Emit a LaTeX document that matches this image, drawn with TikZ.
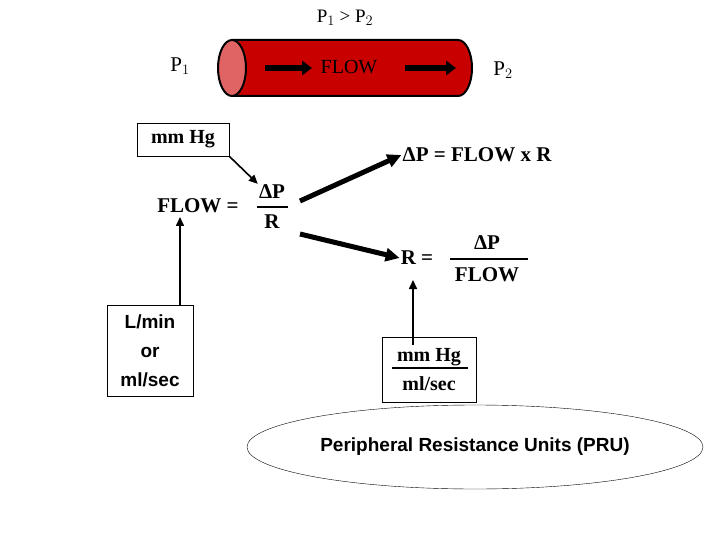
\documentclass[tikz,border=0pt]{standalone}
\usepackage{fontspec}
\setmainfont{Liberation Serif}
\newfontfamily\sansf{Liberation Sans}
\usetikzlibrary{arrows.meta,shapes.geometric}
\definecolor{tube}{RGB}{200,0,0}
\definecolor{tubeend}{RGB}{224,100,100}
\begin{document}
\begin{tikzpicture}[x=1pt,y=-1pt,
  txt/.style={inner sep=1pt,font=\fontsize{21}{23}\selectfont\bfseries},
  box/.style={draw,thin,inner sep=3pt,font=\fontsize{20}{22}\selectfont\bfseries},
  thin arr/.style={-{Triangle[length=9pt,width=8pt]},line width=1.6pt},
  fat arr/.style={-{Triangle[length=14pt,width=13pt]},line width=5pt}]
\useasboundingbox (0,0) rectangle (720,540);
\node[txt,font=\fontsize{19}{21}\selectfont] (cond) at (345,18) {P$_1$ > P$_2$};
% tube
\draw[line width=2pt,fill=tube] (232,40) -- (458,40) arc[start angle=-90,end angle=90,x radius=14,y radius=28] -- (232,96) -- cycle;
\draw[line width=2pt,fill=tubeend] (232,68) ellipse [x radius=14,y radius=28];
\node[txt,font=\fontsize{20}{22}\selectfont] (flow) at (349,67) {FLOW};
\coordinate (a1s) at (265,68); \coordinate (a1e) at (312,68);
\coordinate (a2s) at (405,68); \coordinate (a2e) at (456,68);
\draw[line width=6pt,-{Triangle[length=10pt,width=14pt]}] (a1s) -- (a1e);
\draw[line width=6pt,-{Triangle[length=10pt,width=14pt]}] (a2s) -- (a2e);
\node[txt,font=\fontsize{21}{23}\selectfont] (p1) at (180,66) {P$_1$};
\node[txt,font=\fontsize{21}{23}\selectfont] (p2) at (503,70) {P$_2$};
% left formula
\node[box,minimum width=92pt,minimum height=33pt] (mmhg) at (183,139.5) {mm Hg};
\node[txt] (flweq) at (198,206) {FLOW =};
\node[txt] (dp1) at (272,192) {ΔP};
\node[txt] (r1) at (272,222) {R};
\draw[line width=1.5pt] (257,207) -- (288,207);
\draw[thin arr] (mmhg.south east) -- (dp1.north west);
\node[draw,thin,align=center,inner sep=3pt,minimum width=86pt,minimum height=91pt,font=\sansf\bfseries\fontsize{19}{29}\selectfont] (lmin) at (150,350.5) {L/min\\or\\ml/sec};
\coordinate (flwup) at (180,217);
\draw[thin arr] (lmin.north -| flwup) -- (flwup);
% right formulas
\node[txt] (eq1) at (477,155) {ΔP = FLOW x R};
\draw[fat arr] (300,201) -- (eq1.west);
\node[txt] (req) at (417,258) {R =};
\node[txt] (dp2) at (487,243) {ΔP};
\node[txt] (fl2) at (487,275) {FLOW};
\draw[line width=2.5pt] (450,259) -- (528,259);
\draw[fat arr] (300,234) -- (req.west);
\node[draw,thin,align=center,inner sep=3pt,minimum width=94pt,minimum height=65pt,font=\bfseries\fontsize{20}{29}\selectfont] (unit) at (429,369.5) {mm Hg\\ml/sec};
\draw[line width=1.5pt] (392,368) -- (468,368);
\coordinate (rup) at (413,280);
\draw[thin arr] (413,345) -- (rup);
\node[draw,thin,ellipse,minimum width=456pt,minimum height=84pt,font=\sansf\bfseries\fontsize{19}{22}\selectfont] (pru) at (475,447) {Peripheral Resistance Units (PRU)};
\end{tikzpicture}
\end{document}
